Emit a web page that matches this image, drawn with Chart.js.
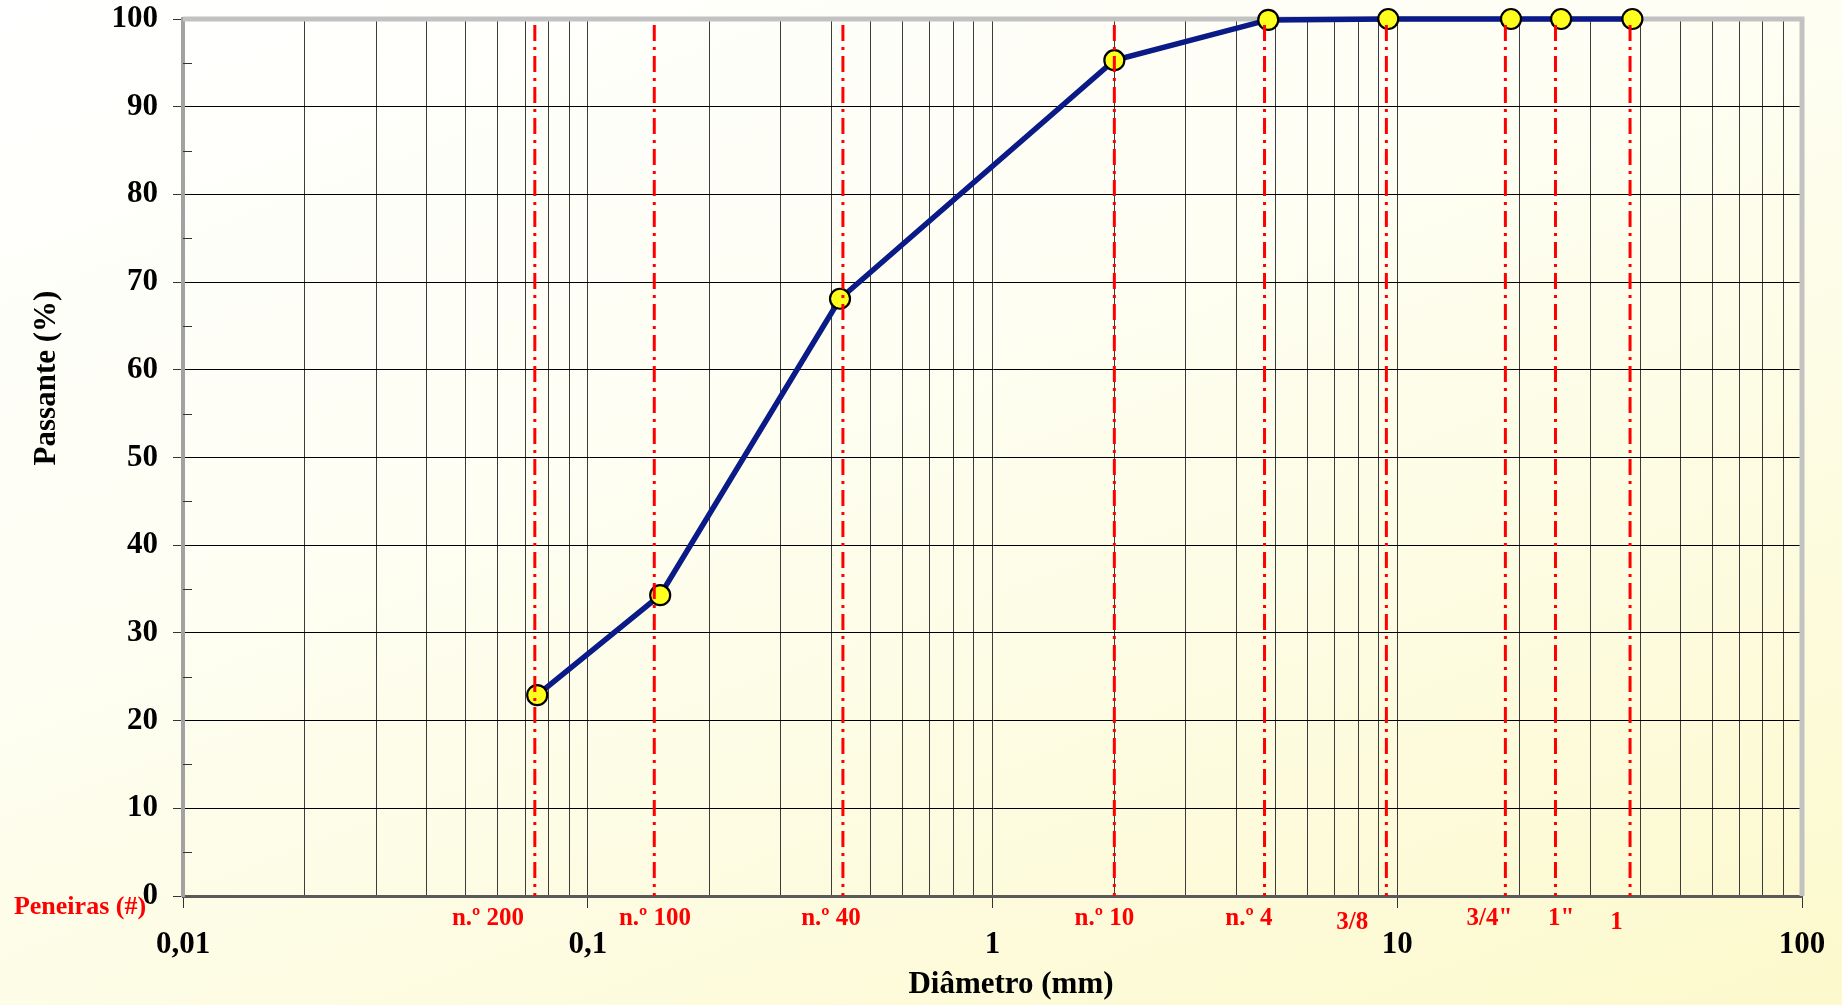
<!DOCTYPE html>
<html><head><meta charset="utf-8">
<script src="https://cdn.jsdelivr.net/npm/chart.js@4.4.1/dist/chart.umd.min.js"></script>
<style>
html,body{margin:0;padding:0;width:1842px;height:1005px;overflow:hidden;
background:linear-gradient(160deg,#ffffff 0%,#fefef3 40%,#fcf9cc 100%);}
canvas{display:block}
</style></head><body>
<canvas id="c" width="1842" height="1005"></canvas>
<script>
// ---- data ----
const diameters = [0.075, 0.151, 0.42, 2.0, 4.8, 9.5, 19.1, 25.4, 38.1];
const passing   = [22.9, 34.3, 68.1, 95.3, 99.9, 100, 100, 100, 100];
const sieveSizes  = [0.074, 0.146, 0.427, 2.0, 4.7, 9.4, 18.5, 24.6, 37.6];
const sieveLabels = ['n.º 200', 'n.º 100', 'n.º 40', 'n.º 10', 'n.º 4', '3/8', '3/4"', '1"', '1'];
const sieveLabelAt = [0.0567, 0.1466, 0.399, 1.89, 4.30, 7.74, 16.9, 25.4, 34.8];
const sieveLabelLow = [false, false, false, false, false, true, false, false, true];
const decades = [0.01, 0.1, 1, 10, 100];
const xTickLabels = ['0,01', '0,1', '1', '10', '100'];
const subDivisions = [1, 2, 3, 4, 5, 6, 7, 8, 9];
const yTicks = [0, 10, 20, 30, 40, 50, 60, 70, 80, 90, 100];
const yMinorTicks = [5, 15, 25, 35, 45, 55, 65, 75, 85, 95];
const xTitle = 'Diâmetro (mm)';
const yTitle = 'Passante (%)';
const sieveTitle = 'Peneiras (#)';

const xGrid = [];
decades.forEach((d, i) => {
  if (i < decades.length - 1) subDivisions.forEach(s => xGrid.push(d * s));
  else xGrid.push(d);
});
const isDecade = v => decades.some(d => Math.abs(d - v) / d < 1e-9);
const SERIF = '"Liberation Serif", "Times New Roman", serif';

const overlay = {
  id: 'overlay',
  beforeDatasetsDraw(chart) {
    const {ctx, chartArea: a, scales: {x, y}} = chart;
    ctx.save();
    ctx.strokeStyle = '#333'; ctx.lineWidth = 1;
    yMinorTicks.forEach(v => {
      const py = Math.round(y.getPixelForValue(v)) + 0.5;
      ctx.beginPath(); ctx.moveTo(a.left, py); ctx.lineTo(a.left + 9, py); ctx.stroke();
    });
    ctx.strokeStyle = '#c2c2c2'; ctx.lineWidth = 5;
    ctx.beginPath();
    ctx.moveTo(a.left, a.top); ctx.lineTo(a.right, a.top); ctx.lineTo(a.right, a.bottom);
    ctx.stroke();
    ctx.restore();
  },
  afterDatasetsDraw(chart) {
    const {ctx, chartArea: a, scales: {x, y}} = chart;
    ctx.save();
    ctx.strokeStyle = '#ff0000'; ctx.lineWidth = 3;
    ctx.setLineDash([16, 6, 3, 6]);
    sieveSizes.forEach(s => {
      const px = x.getPixelForValue(s);
      ctx.beginPath(); ctx.moveTo(px, y.getPixelForValue(100) + 6); ctx.lineTo(px, y.getPixelForValue(0)); ctx.stroke();
    });
    ctx.restore();
  },
  afterDraw(chart) {
    const {ctx, chartArea: a, scales: {x, y}} = chart;
    ctx.save();
    ctx.fillStyle = '#ff0000';
    ctx.font = 'bold 25px ' + SERIF;
    ctx.textAlign = 'center'; ctx.textBaseline = 'middle';
    sieveLabels.forEach((t, i) => {
      ctx.fillText(t, x.getPixelForValue(sieveLabelAt[i]), a.bottom + (sieveLabelLow[i] ? 27 : 23));
    });
    ctx.font = 'bold 26px ' + SERIF;
    ctx.fillText(sieveTitle, 80, a.bottom + 11);
    ctx.fillStyle = '#000';
    ctx.font = 'bold 31px ' + SERIF;
    ctx.fillText(xTitle, 1011, 985);
    ctx.translate(47, 378);
    ctx.rotate(-Math.PI / 2);
    ctx.fillText(yTitle, 0, 0);
    ctx.restore();
  }
};

new Chart(document.getElementById('c'), {
  type: 'scatter',
  data: {
    datasets: [{
      data: diameters.map((d, i) => ({x: d, y: passing[i]})),
      showLine: true,
      borderColor: '#0a1a86',
      borderWidth: 5.5,
      tension: 0,
      pointRadius: 10,
      pointBackgroundColor: '#ffff1e',
      pointBorderColor: '#000',
      pointBorderWidth: 2.2,
      clip: false
    }]
  },
  options: {
    responsive: false,
    animation: false,
    layout: {padding: {left: 0, right: 40, top: 19, bottom: 0}},
    plugins: {legend: {display: false}, tooltip: {enabled: false}},
    scales: {
      x: {
        type: 'logarithmic',
        min: 0.01, max: 100,
        afterBuildTicks: s => { s.ticks = xGrid.map(v => ({value: v})); },
        afterFit: s => { s.height = 109; s.paddingLeft = 0; s.paddingRight = 0; },
        ticks: {
          autoSkip: false, maxRotation: 0, padding: 18,
          color: '#000', font: {family: SERIF, size: 31, weight: 'bold'},
          callback: v => { const i = decades.findIndex(d => Math.abs(d - v) / d < 1e-9); return i >= 0 ? xTickLabels[i] : ''; }
        },
        grid: {
          color: '#3c3c3c', lineWidth: 1, tickLength: 12,
          tickColor: c => (c.tick && isDecade(c.tick.value)) ? '#333' : 'rgba(0,0,0,0)'
        },
        border: {display: true, color: '#5a5a5a', width: 3}
      },
      y: {
        type: 'linear',
        min: 0, max: 100,
        afterBuildTicks: s => { s.ticks = yTicks.map(v => ({value: v})); },
        afterFit: s => { s.width = 183; s.paddingTop = 0; s.paddingBottom = 0; },
        ticks: {
          padding: 15, color: '#000', font: {family: SERIF, size: 31, weight: 'bold'},
          callback: v => String(v)
        },
        grid: {color: '#000', lineWidth: 1, tickLength: 10, tickColor: '#333'},
        border: {display: true, color: '#a2a2a2', width: 4}
      }
    }
  },
  plugins: [overlay]
});
</script>
</body></html>
